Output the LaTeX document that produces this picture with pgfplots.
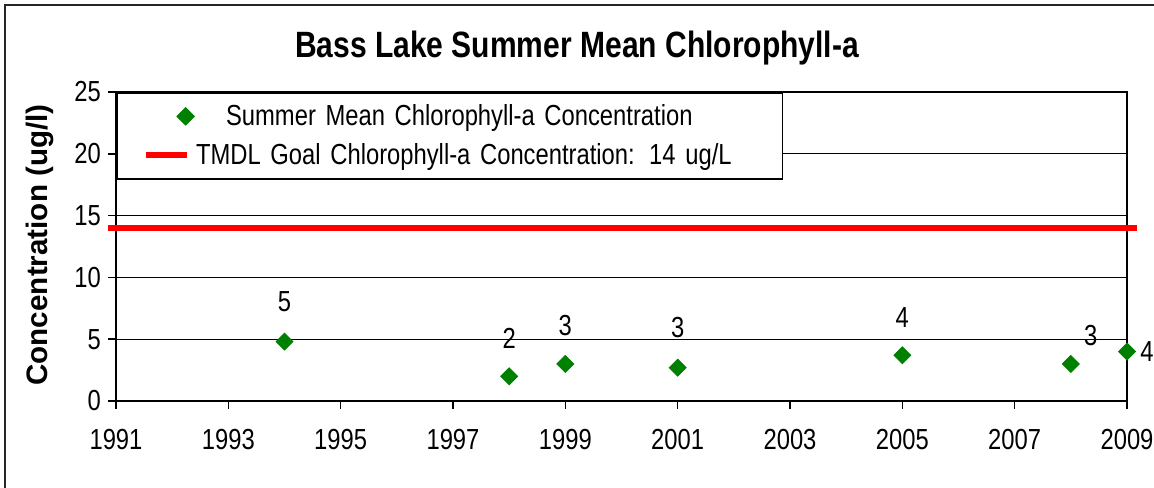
\documentclass[border=0pt]{standalone}
\usepackage{pgfplots}
\pgfplotsset{compat=1.18}
\usepackage{pgfplotstable}
\usepackage{fontspec}
\setmainfont{Liberation Sans}[FakeStretch=0.82]
\newfontfamily\ylabfont{Liberation Sans}
\definecolor{ptgreen}{RGB}{0,128,0}

% summer means, label text and label offsets (pt)
\pgfplotstableread{
year  conc  label dx dy
1994  4.8   5     0  20
1998  2.0   2     0  19
1999  3.0   3     0  19
2001  2.7   3     0  20
2005  3.7   4     0  19
2008  3.0   3     10 14
2009  4.0   4     10 0
}\chla

\pgfplotsset{
  ptlegend/.style={legend image code/.code={
    \path[draw=none] (0pt,0pt) -- (34.5pt,0pt);
    \draw[##1] plot[only marks] coordinates {(34pt,0pt)};}},
  linelegend/.style={legend image code/.code={
    \path[draw=none] (0pt,0pt) -- (34.5pt,0pt);
    \draw[##1] (14pt,0pt) -- (34.5pt,0pt);}},
}

\begin{document}
\begin{tikzpicture}
\begin{axis}[
  at={(0pt,0pt)}, anchor=south west,
  scale only axis, width=505.5pt, height=154.5pt,
  xmin=1991, xmax=2009, ymin=0, ymax=25,
  xtick={1991,1993,...,2009}, ytick={0,5,...,25},
  xtick pos=lower, ytick pos=left,
  tick align=outside, major tick length=4pt,
  tick style={black, line width=0.8pt},
  ymajorgrids, major grid style={black, line width=0.6pt},
  axis line style={black, line width=1.2pt},
  x tick label style={/pgf/number format/1000 sep={}, yshift=-6.5pt},
  /pgf/number format/assume math mode=true,
  font=\fontsize{14.5}{17}\selectfont,
  clip=false,
  title={Bass Lake Summer Mean Chlorophyll-a},
  title style={at={(axis description cs:0.456,1.105)}, anchor=center,
    font=\bfseries\fontsize{18.3}{22}\selectfont},
  ylabel={Concentration (ug/l)},
  ylabel style={at={(axis description cs:-0.075,0.505)}, anchor=center,
    font=\ylabfont\bfseries\fontsize{14.8}{18}\selectfont},
  legend style={at={(axis description cs:0.001,0.999)}, anchor=north west,
    draw=black, line width=0.6pt, fill=white, inner xsep=0pt, inner ysep=2pt,
    row sep=0pt, column sep=0pt,
    nodes={inner xsep=1pt, minimum height=19.5pt},
    /tikz/every even column/.append style={text width=292pt, align=left}},
  legend cell align=left,
]
\addplot[only marks, mark=square*, mark size=3pt, mark options={rotate=45},
  ptgreen, ptlegend,
  nodes near coords, point meta=explicit symbolic,
  visualization depends on={\thisrow{dx} \as \dx},
  visualization depends on={\thisrow{dy} \as \dy},
  nodes near coords style={black, anchor=center, xshift=\dx pt, yshift=\dy pt},
] table[x=year, y=conc, meta=label] {\chla};
\addlegendentry{\hspace{15pt}Summer Mean Chlorophyll-a Concentration}
\addplot[red, line width=3pt, linelegend] coordinates {(1990.86,14) (2009.18,14)};
\addlegendentry{TMDL Goal Chlorophyll-a Concentration: 14 ug/L}
\end{axis}
\draw[line width=0.9pt, black!85] (-55.5pt,-60pt) -- (-55.5pt,198pt) -- (540pt,198pt);
\pgfresetboundingbox
\useasboundingbox (-58pt,-43pt) rectangle (519pt,200.5pt);
\end{tikzpicture}
\end{document}
